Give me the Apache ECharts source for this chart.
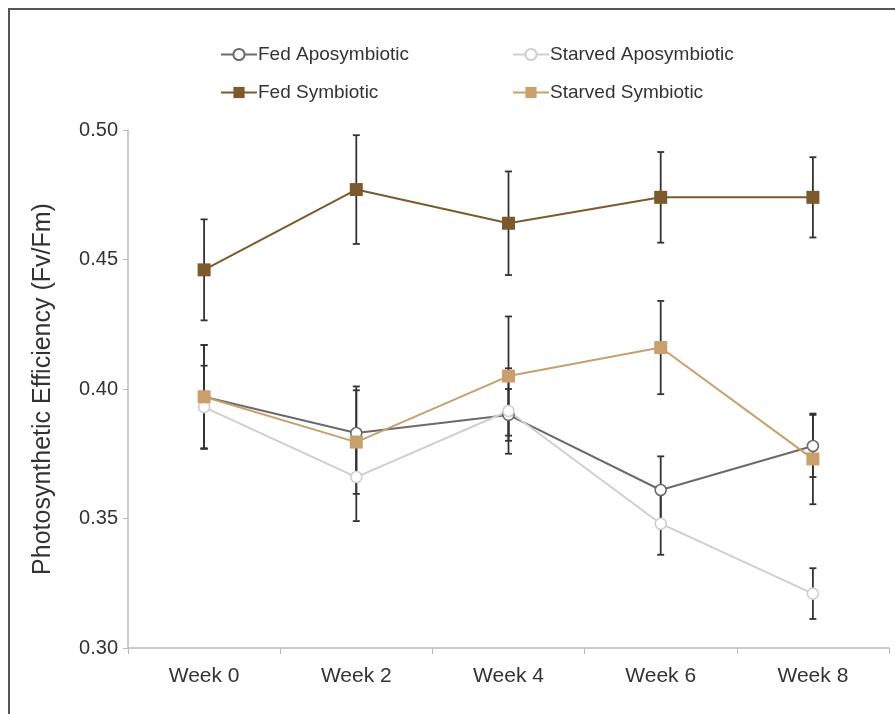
<!DOCTYPE html>
<html>
<head>
<meta charset="utf-8">
<script src="https://cdn.jsdelivr.net/npm/echarts@6/dist/echarts.min.js"></script>
<style>html,body{margin:0;padding:0;background:#fff}#c{width:895px;height:714px}</style>
</head>
<body>
<div id="c"></div>
<script>
const categories = ['Week 0', 'Week 2', 'Week 4', 'Week 6', 'Week 8'];
const yTicks = [0.30, 0.35, 0.40, 0.45, 0.50];
const fedApo = [0.397, 0.383, 0.390, 0.361, 0.378];
const fedApoErr = [0.020, 0.018, 0.010, 0.013, 0.012];
const starvedApo = [0.393, 0.366, 0.3915, 0.348, 0.321];
const starvedApoErr = [0.016, 0.017, 0.0165, 0.012, 0.0098];
const fedSym = [0.446, 0.477, 0.464, 0.474, 0.474];
const fedSymErr = [0.0195, 0.021, 0.020, 0.0175, 0.0155];
const starvedSym = [0.397, 0.3795, 0.405, 0.416, 0.373];
const starvedSymErr = [0.020, 0.020, 0.023, 0.018, 0.0175];

const FONT = 'Liberation Sans, Arial, sans-serif';

function errData(vals, errs) {
  return vals.map((v, i) => [i, v - errs[i], v + errs[i]]);
}
function renderErr(params, api) {
  const lo = api.coord([api.value(0), api.value(1)]);
  const hi = api.coord([api.value(0), api.value(2)]);
  const w = 3.5;
  const style = { stroke: '#333', lineWidth: 1.8 };
  return {
    type: 'group',
    children: [
      { type: 'line', shape: { x1: lo[0], y1: lo[1], x2: hi[0], y2: hi[1] }, style },
      { type: 'line', shape: { x1: lo[0] - w, y1: lo[1], x2: lo[0] + w, y2: lo[1] }, style },
      { type: 'line', shape: { x1: hi[0] - w, y1: hi[1], x2: hi[0] + w, y2: hi[1] }, style }
    ]
  };
}
function errSeries(vals, errs) {
  return {
    type: 'custom', renderItem: renderErr, data: errData(vals, errs),
    encode: { x: 0, y: [1, 2] }, z: 1, silent: true
  };
}
function lineSeries(name, vals, lineColor, symbol, fill, size) {
  return {
    name, type: 'line', data: vals, z: 3,
    symbol, symbolSize: size,
    lineStyle: { color: lineColor, width: 2 },
    itemStyle: { color: fill, borderColor: lineColor, borderWidth: symbol === 'circle' ? 1.6 : 0 },
    emphasis: { disabled: true }
  };
}
const legendBase = {
  itemWidth: 36, itemHeight: 14, itemGap: 0,
  textStyle: { fontFamily: FONT, fontSize: 19, color: '#333', padding: [0, 0, 0, -4] },
  selectedMode: false
};
const option = {
  animation: false,
  backgroundColor: '#fff',
  graphic: [{
    type: 'polyline', shape: { points: [[9, 714], [9, 9], [895, 9]] },
    style: { stroke: '#555', lineWidth: 2, fill: null }
  }],
  legend: [
    Object.assign({}, legendBase, { data: ['Fed Aposymbiotic'], left: 215, top: 40 }),
    Object.assign({}, legendBase, { data: ['Starved Aposymbiotic'], left: 507, top: 40 }),
    Object.assign({}, legendBase, { data: ['Fed Symbiotic'], left: 215, top: 78 }),
    Object.assign({}, legendBase, { data: ['Starved Symbiotic'], left: 507, top: 78 })
  ],
  grid: { left: 128, right: 6, top: 130, bottom: 66, containLabel: false },
  xAxis: {
    type: 'category', data: categories, boundaryGap: true,
    axisLine: { lineStyle: { color: '#bbb', width: 1.5 } },
    axisTick: { show: true, length: 6, lineStyle: { color: '#bbb' } },
    axisLabel: { fontFamily: FONT, fontSize: 21, color: '#333', margin: 18 }
  },
  yAxis: {
    type: 'value', min: 0.30, max: 0.50, interval: 0.05,
    name: 'Photosynthetic Efficiency (Fv/Fm)', nameLocation: 'middle', nameGap: 72,
    nameTextStyle: { fontFamily: FONT, fontSize: 25, color: '#333' },
    axisLine: { show: true, lineStyle: { color: '#bbb', width: 1.5 } },
    axisTick: { show: true, length: 5, lineStyle: { color: '#bbb' } },
    splitLine: { show: false },
    axisLabel: { fontFamily: FONT, fontSize: 20, color: '#333', margin: 10,
      formatter: v => yTicks.find(t => Math.abs(t - v) < 1e-9) !== undefined ? v.toFixed(2) : '' }
  },
  series: [
    errSeries(fedApo, fedApoErr),
    errSeries(starvedApo, starvedApoErr),
    errSeries(fedSym, fedSymErr),
    errSeries(starvedSym, starvedSymErr),
    lineSeries('Fed Aposymbiotic', fedApo, '#6a6a6a', 'circle', '#fff', 11),
    lineSeries('Starved Aposymbiotic', starvedApo, '#cfcfcf', 'circle', '#fff', 11),
    lineSeries('Fed Symbiotic', fedSym, '#7b5a2e', 'rect', '#7b5a2e', 13),
    lineSeries('Starved Symbiotic', starvedSym, '#c9a06c', 'rect', '#c9a06c', 13)
  ]
};
const chart = echarts.init(document.getElementById('c'), null, { renderer: 'canvas' });
chart.setOption(option);
</script>
</body>
</html>
